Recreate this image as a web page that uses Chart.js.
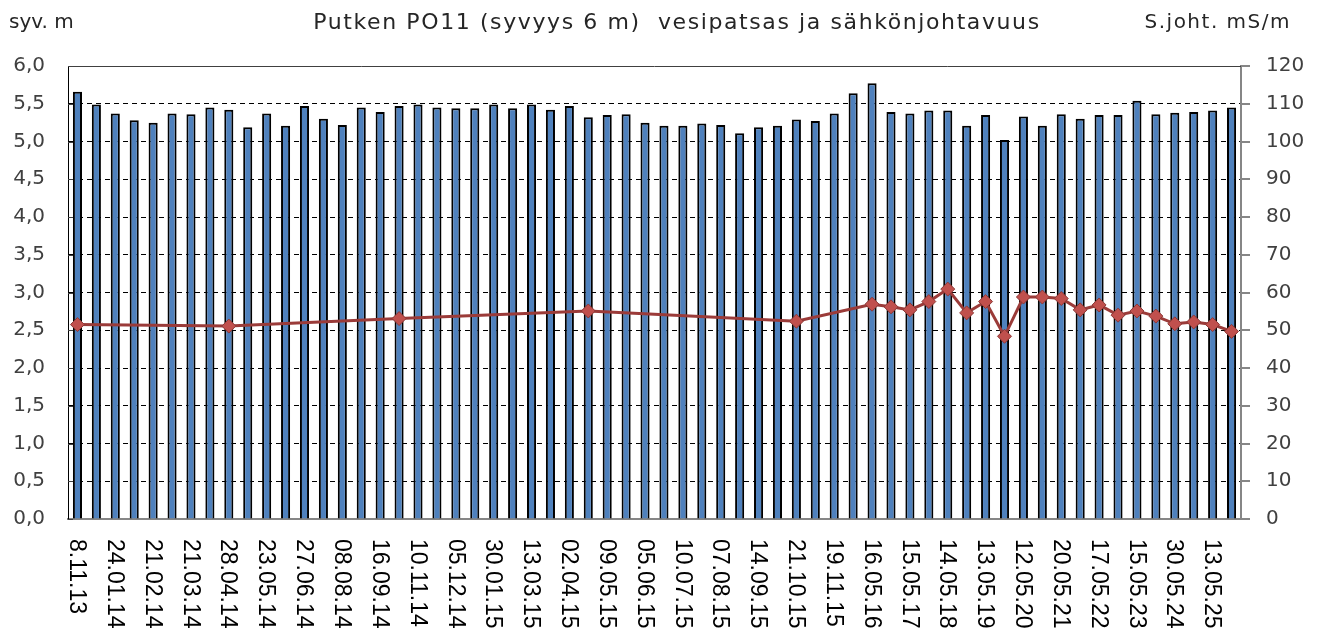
<!DOCTYPE html>
<html lang="fi">
<head>
<meta charset="UTF-8">
<title>Putken PO11 vesipatsas ja sähkönjohtavuus</title>
<style>
  body { margin: 0; background: #fff; }
  #chart { display: block; }
</style>
</head>
<body>
<canvas id="chart" width="1322" height="632"></canvas>
<script src="https://cdn.jsdelivr.net/npm/chart.js"></script>
<script>
// every second measurement carries a date label in the original chart
const dateLabels = ['8.11.13', '24.01.14', '21.02.14', '21.03.14', '28.04.14', '23.05.14', '27.06.14',
  '08.08.14', '16.09.14', '10.11.14', '05.12.14', '30.01.15', '13.03.15', '02.04.15', '09.05.15',
  '05.06.15', '10.07.15', '07.08.15', '14.09.15', '21.10.15', '19.11.15', '16.05.16', '15.05.17',
  '14.05.18', '13.05.19', '12.05.20', '20.05.21', '17.05.22', '15.05.23', '30.05.24', '13.05.25'];

// water column, m (left axis)
const waterColumn = [
  5.66, 5.49, 5.37, 5.28, 5.25, 5.37, 5.36, 5.45, 5.42, 5.19,
  5.37, 5.21, 5.47, 5.30, 5.22, 5.45, 5.39, 5.47, 5.49, 5.45,
  5.44, 5.44, 5.49, 5.44, 5.49, 5.42, 5.47, 5.32, 5.35, 5.36,
  5.25, 5.21, 5.21, 5.24, 5.22, 5.11, 5.19, 5.21, 5.29, 5.27,
  5.37, 5.64, 5.77, 5.39, 5.37, 5.41, 5.41, 5.21, 5.35, 5.02,
  5.33, 5.21, 5.36, 5.30, 5.35, 5.35, 5.54, 5.36, 5.38, 5.39,
  5.41, 5.45
];

// electrical conductivity, mS/m (right axis), measured only on some dates
const conductivity = [
  51.5, null, null, null, null, null, null, null, 51.1, null,
  null, null, null, null, null, null, null, 53.1, null, null,
  null, null, null, null, null, null, null, 55.1, null, null,
  null, null, null, null, null, null, null, null, 52.4, null,
  null, null, 56.9, 56.2, 55.4, 57.6, 60.9, 54.6, 57.6, 48.4,
  58.8, 58.8, 58.4, 55.4, 56.7, 54.0, 55.1, 53.75, 51.7, 52.2,
  51.5, 49.7
];

const categories = waterColumn.map((v, i) => (i % 2 === 0 ? dateLabels[i / 2] : ''));

const decimalComma = v => v.toFixed(1).replace('.', ',');
const axisFont = { family: '"DejaVu Sans", sans-serif', size: 20 };

// titles, top frame line, inner ticks on the left axis and the top-to-bottom date labels
const extras = {
  id: 'extras',
  afterDraw(chart) {
    const { ctx, chartArea, scales } = chart;
    ctx.save();
    ctx.strokeStyle = '#404040';
    ctx.lineWidth = 1;
    ctx.beginPath();
    ctx.moveTo(chartArea.left, chartArea.top + 0.5);
    ctx.lineTo(chartArea.right, chartArea.top + 0.5);
    scales.y.ticks.forEach(t => {
      const y = Math.round(scales.y.getPixelForValue(t.value)) + 0.5;
      ctx.moveTo(chartArea.left, y);
      ctx.lineTo(chartArea.left + 5, y);
    });
    ctx.stroke();

    ctx.fillStyle = '#262626';
    ctx.textBaseline = 'middle';
    ctx.font = '22px "DejaVu Sans", sans-serif';
    ctx.letterSpacing = '1.6px';
    ctx.textAlign = 'center';
    ctx.fillText('Putken PO11 (syvyys 6 m)  vesipatsas ja sähkönjohtavuus', 677, 23);
    ctx.font = '20px "DejaVu Sans", sans-serif';
    ctx.letterSpacing = '0px';
    ctx.textAlign = 'left';
    ctx.fillText('syv. m', 9, 23);
    ctx.letterSpacing = '1.5px';
    ctx.textAlign = 'right';
    ctx.fillText('S.joht. mS/m', 1291, 23);
    ctx.letterSpacing = '0px';

    ctx.fillStyle = '#000';
    ctx.font = '23px "Liberation Sans", Arial, sans-serif';
    ctx.textAlign = 'left';
    categories.forEach((lab, i) => {
      if (!lab) return;
      const x = scales.x.getPixelForValue(i);
      ctx.save();
      ctx.translate(x - 1, chartArea.bottom + 20);
      ctx.rotate(Math.PI / 2);
      ctx.fillText(lab, 0, 0);
      ctx.restore();
    });
    ctx.restore();
  }
};

new Chart(document.getElementById('chart').getContext('2d'), {
  data: {
    labels: categories,
    datasets: [
      {
        type: 'line',
        label: 'Sähkönjohtavuus',
        data: conductivity,
        yAxisID: 'y1',
        spanGaps: true,
        borderColor: '#9b3b39',
        borderWidth: 3,
        tension: 0,
        pointStyle: 'rectRot',
        pointRadius: 7,
        pointBackgroundColor: '#c0504d',
        pointBorderColor: '#8c3836',
        pointBorderWidth: 1,
        order: 0
      },
      {
        type: 'bar',
        label: 'Vesipatsas',
        data: waterColumn,
        yAxisID: 'y',
        backgroundColor: '#4f81bd',
        borderColor: '#000',
        borderWidth: 2,
        borderSkipped: 'bottom',
        categoryPercentage: 1,
        barPercentage: 0.48,
        order: 1
      }
    ]
  },
  options: {
    responsive: false,
    animation: false,
    layout: { padding: { top: 66 } },
    plugins: {
      legend: { display: false },
      tooltip: { enabled: false }
    },
    scales: {
      x: {
        offset: true,
        grid: { display: false },
        border: { display: true, color: '#868686', width: 2 },
        ticks: { display: false },
        afterFit: s => { s.height = 113; }
      },
      y: {
        position: 'left',
        min: 0,
        max: 6,
        ticks: {
          stepSize: 0.5,
          color: '#404040',
          font: axisFont,
          padding: 23,
          callback: v => decimalComma(v)
        },
        grid: {
          drawTicks: false,
          color: c => (c.tick.value === 0 || c.tick.value === 6 ? 'rgba(0,0,0,0)' : '#000'),
          lineWidth: 1
        },
        border: { color: '#000', width: 1, dash: [5, 4] },
        afterFit: s => { s.width = 68; }
      },
      y1: {
        position: 'right',
        min: 0,
        max: 120,
        ticks: {
          stepSize: 10,
          color: '#404040',
          font: axisFont,
          padding: 16
        },
        grid: { drawOnChartArea: false, color: '#868686', tickLength: 9, lineWidth: 2 },
        border: { color: '#868686', width: 2 },
        afterFit: s => { s.width = 81; }
      }
    }
  },
  plugins: [extras]
});
</script>
</body>
</html>
